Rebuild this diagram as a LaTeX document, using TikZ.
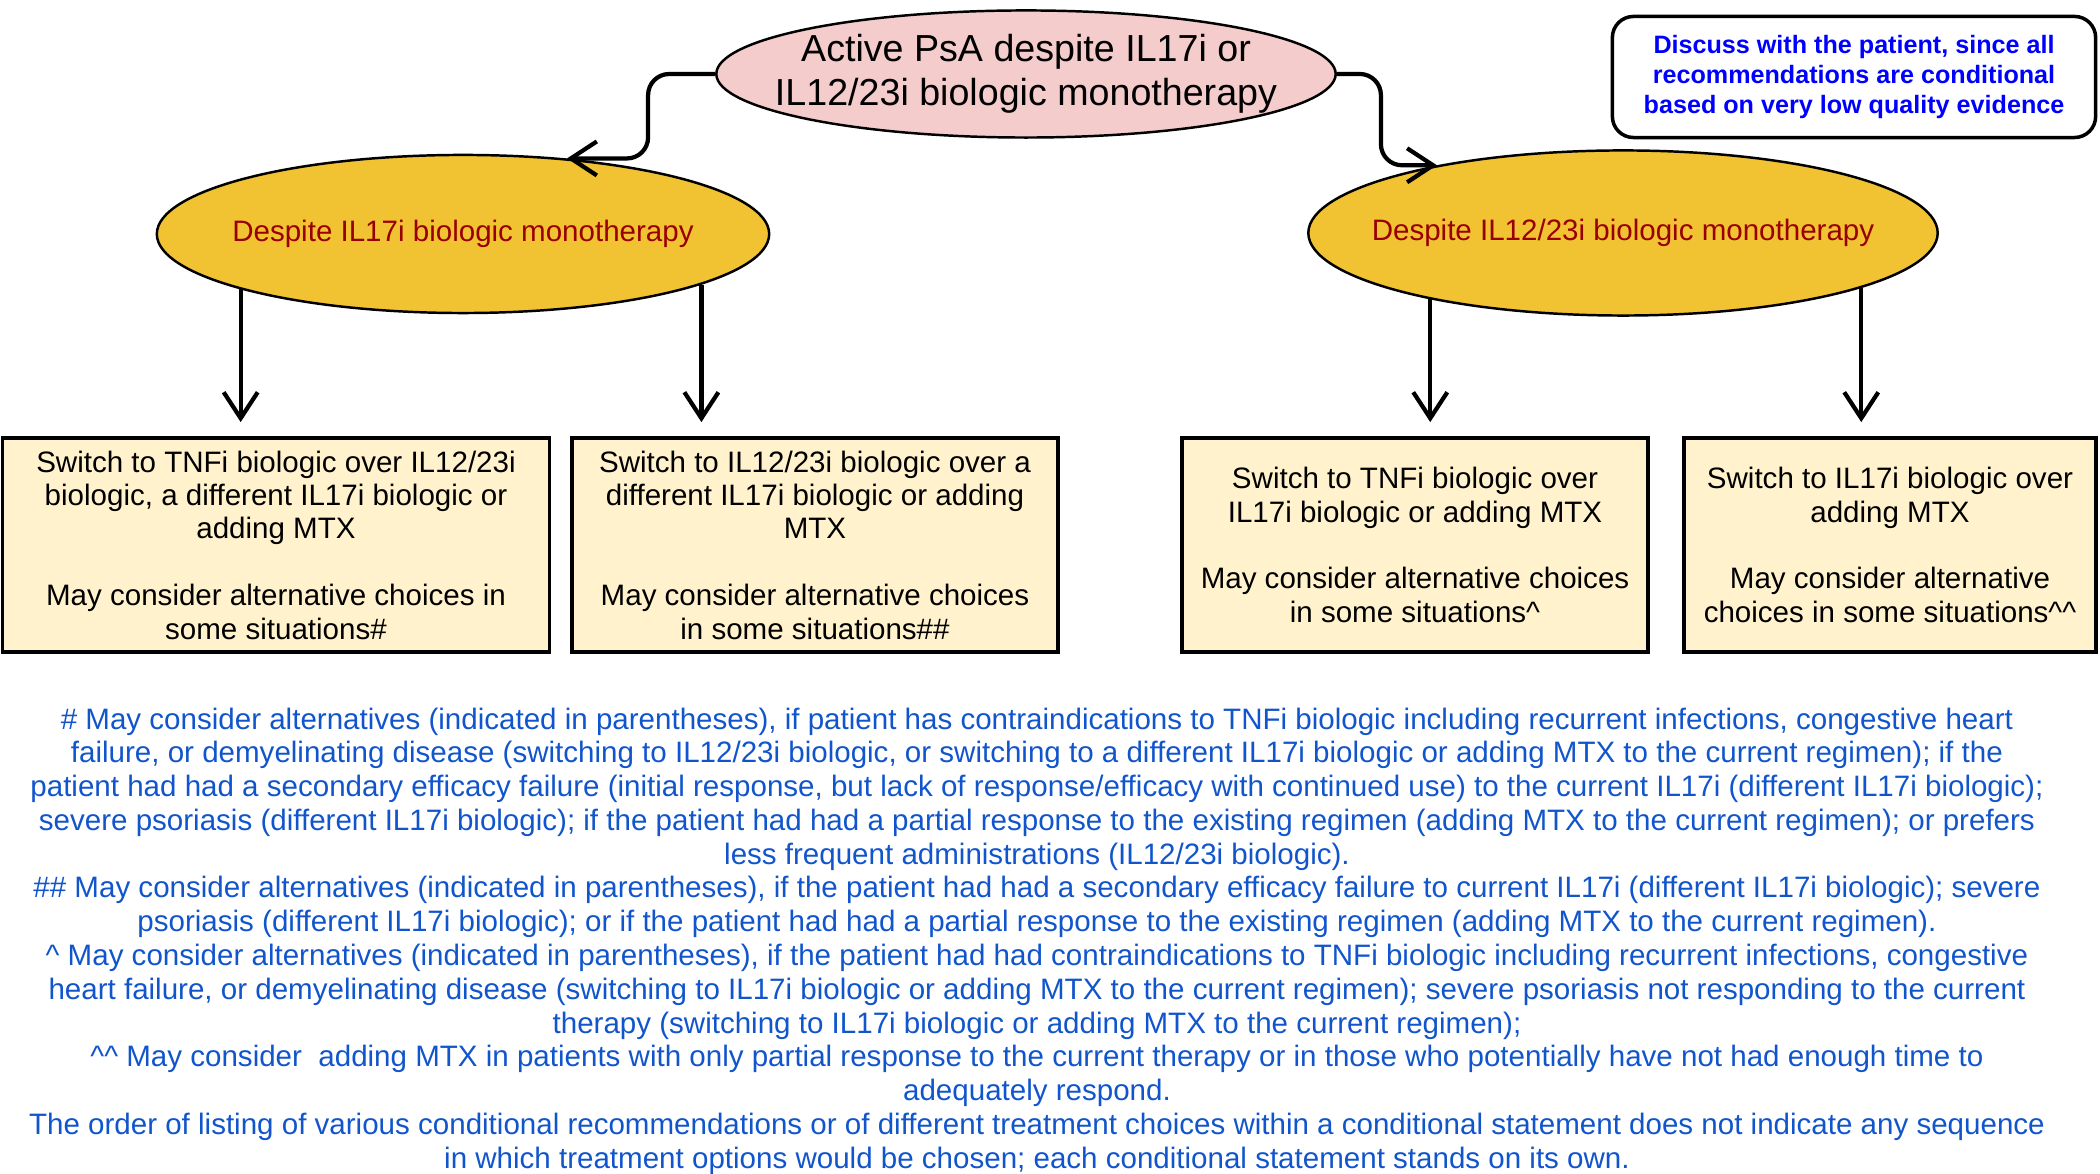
\documentclass[tikz,border=0pt]{standalone}
\usepackage{fontspec}
\setmainfont{Liberation Sans}
\usetikzlibrary{shapes.geometric,arrows.meta}

\definecolor{startpink}{HTML}{F4CCCC}
\definecolor{branchgold}{HTML}{F1C232}
\definecolor{choicecream}{HTML}{FFF2CC}
\definecolor{branchred}{HTML}{990000}
\definecolor{notetext}{HTML}{0000FF}
\definecolor{footblue}{HTML}{1155CC}

\tikzset{
  startnode/.style={ellipse, draw, line width=0.7pt, fill=startpink, inner xsep=-1cm, inner ysep=0pt,
    align=center, font=\fontsize{10.7}{12.5}\selectfont},
  branch/.style={ellipse, draw, line width=0.7pt, fill=branchgold, text=branchred, inner xsep=-1cm,
    inner ysep=0pt, font=\fontsize{8.4}{10}\selectfont},
  choice/.style={rectangle, draw, line width=1pt, fill=choicecream, minimum height=2.14cm, inner sep=0pt,
    align=center, font=\fontsize{8.4}{9.5}\selectfont},
  note/.style={rectangle, draw, rounded corners=6pt, line width=1pt, text=notetext, inner sep=0pt,
    minimum width=4.83cm, minimum height=1.21cm, align=center, font=\fontsize{7.15}{8.4}\selectfont\bfseries},
  footnotes/.style={text=footblue, inner sep=0pt, align=center, font=\fontsize{8.4}{9.6}\selectfont},
  arr/.style={line width=1.2pt, -{Straight Barb[length=2.6mm,width=3.4mm]}, shorten >=4pt},
  link/.style={arr, rounded corners=6pt, shorten >=0pt}
}

\begin{document}
\begin{tikzpicture}[x=0.01cm,y=-0.01cm]
\useasboundingbox (0,0) rectangle (2100,1174);
%ellipser
\node[startnode, minimum width=6.19cm, minimum height=1.27cm] (top) at (1026,74)
  {Active PsA despite IL17i or\\ IL12/23i biologic monotherapy};
\node[branch, minimum width=6.12cm, minimum height=1.58cm] (lft) at (463,234) {Despite IL17i biologic monotherapy};
\node[branch, minimum width=6.29cm, minimum height=1.65cm] (rgt) at (1623,233) {Despite IL12/23i biologic monotherapy};
\node[note] (note) at (1854,77) {Discuss with the patient, since all\\ recommendations are conditional\\ based on very low quality evidence};
%bokse
\node[choice, minimum width=5.47cm] (b1) at (276,545) {Switch to TNFi biologic over IL12/23i\\ biologic, a different IL17i biologic or\\ adding MTX\\ ~\\ May consider alternative choices in\\ some situations\#};
\node[choice, minimum width=4.86cm] (b2) at (815,545) {Switch to IL12/23i biologic over a\\ different IL17i biologic or adding\\ MTX\\ ~\\ May consider alternative choices\\ in some situations\#\#};
\node[choice, minimum width=4.66cm] (b3) at (1415,545) {Switch to TNFi biologic over\\ IL17i biologic or adding MTX\\ ~\\ May consider alternative choices\\ in some situations\textasciicircum};
\node[choice, minimum width=4.12cm] (b4) at (1890,545) {Switch to IL17i biologic over\\ adding MTX\\ ~\\ May consider alternative\\ choices in some situations\textasciicircum\textasciicircum};
%pile
\draw[link] (top.west) -- ++(-67,0) |- (lft.36);
\draw[link] (top.east) -- ++(44,0) |- (rgt.160);
\draw[arr] (lft.194) -- (lft.194 |- b1.north);
\draw[arr] (lft.348) -- (lft.348 |- b2.north);
\draw[arr] (rgt.199) -- (rgt.199 |- b3.north);
\draw[arr] (rgt.347) -- (rgt.347 |- b4.north);
%fodnoter
\node[footnotes] (foot) at (1037,941) {\# May consider alternatives (indicated in parentheses), if patient has contraindications to TNFi biologic including recurrent infections, congestive heart\\
failure, or demyelinating disease (switching to IL12/23i biologic, or switching to a different IL17i biologic or adding MTX to the current regimen); if the\\
patient had had a secondary efficacy failure (initial response, but lack of response/efficacy with continued use) to the current IL17i (different IL17i biologic);\\
severe psoriasis (different IL17i biologic); if the patient had had a partial response to the existing regimen (adding MTX to the current regimen); or prefers\\
less frequent administrations (IL12/23i biologic).\\
\#\# May consider alternatives (indicated in parentheses), if the patient had had a secondary efficacy failure to current IL17i (different IL17i biologic); severe\\
psoriasis (different IL17i biologic); or if the patient had had a partial response to the existing regimen (adding MTX to the current regimen).\\
\textasciicircum{} May consider alternatives (indicated in parentheses), if the patient had had contraindications to TNFi biologic including recurrent infections, congestive\\
heart failure, or demyelinating disease (switching to IL17i biologic or adding MTX to the current regimen); severe psoriasis not responding to the current\\
therapy (switching to IL17i biologic or adding MTX to the current regimen);\\
\textasciicircum\textasciicircum{} May consider\ \ adding MTX in patients with only partial response to the current therapy or in those who potentially have not had enough time to\\
adequately respond.\\
The order of listing of various conditional recommendations or of different treatment choices within a conditional statement does not indicate any sequence\\
in which treatment options would be chosen; each conditional statement stands on its own.};
\end{tikzpicture}
\end{document}
